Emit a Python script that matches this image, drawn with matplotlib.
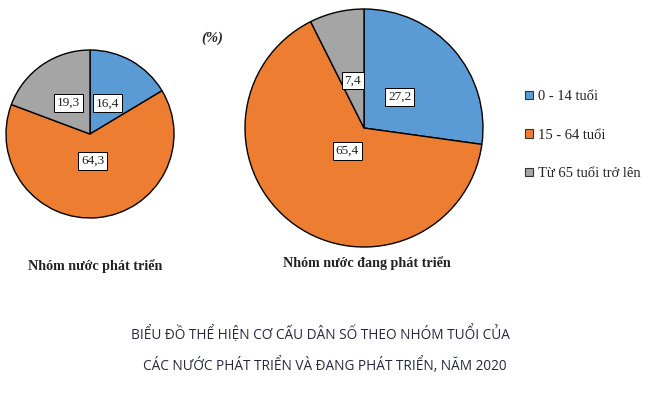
import matplotlib.pyplot as plt
from matplotlib.patches import Patch
import numpy as np

# Dữ liệu cơ cấu dân số theo nhóm tuổi (%), năm 2020
age_groups = ["0 - 14 tuổi", "15 - 64 tuổi", "Từ 65 tuổi trở lên"]
developed = [16.4, 64.3, 19.3]
developing = [27.2, 65.4, 7.4]
group_names = ["Nhóm nước phát triển", "Nhóm nước đang phát triển"]

colors = ["#5b9bd5", "#ed7d31", "#a5a5a5"]

W, H = 650, 408
fig = plt.figure(figsize=(W / 100, H / 100), dpi=100)
ax = fig.add_axes([0, 0, 1, 1])
ax.set_xlim(0, W)
ax.set_ylim(0, H)
ax.set_aspect("equal")
ax.axis("off")

serif = ["Liberation Serif", "DejaVu Serif"]


def draw_pie(values, center, radius, label_dist):
    # vẽ biểu đồ tròn, bắt đầu từ đỉnh, theo chiều kim đồng hồ
    wedges, _ = ax.pie(values, colors=colors, center=center, radius=radius,
                       startangle=90, counterclock=False,
                       wedgeprops=dict(edgecolor="black", linewidth=1.0))
    for w, v, d in zip(wedges, values, label_dist):
        mid = np.deg2rad((w.theta1 + w.theta2) / 2)
        x = center[0] + d * radius * np.cos(mid)
        y = center[1] + d * radius * np.sin(mid)
        ax.text(x, y, f"{v:.1f}".replace(".", ","), ha="center", va="center",
                fontsize=9.5, family=serif, color="#222222",
                bbox=dict(boxstyle="square,pad=0.22", fc="white", ec="black", lw=0.7))


draw_pie(developed, (90, H - 134), 84, [0.42, 0.32, 0.45])
draw_pie(developing, (364, H - 128), 119, [0.40, 0.24, 0.41])

ax.set_xlim(0, W)
ax.set_ylim(0, H)

ax.text(95, H - 266, group_names[0], ha="center", va="center",
        fontsize=10.2, fontweight="bold", family=serif, color="#222222")
ax.text(367, H - 263, group_names[1], ha="center", va="center",
        fontsize=10.2, fontweight="bold", family=serif, color="#222222")

ax.text(212, H - 38, "(%)", ha="center", va="center", fontsize=10.5,
        fontweight="bold", fontstyle="italic", family=serif, color="#222222")

# chú giải
handles = [Patch(facecolor=c, edgecolor="#333333", linewidth=0.8) for c in colors]
leg = ax.legend(handles, age_groups, loc="upper left", bbox_to_anchor=(512 / W, 1 - 77 / H),
                frameon=False, handlelength=0.55, handleheight=0.55, handletextpad=0.35,
                labelspacing=1.75, prop={"family": serif, "size": 10.5})
for t in leg.get_texts():
    t.set_color("#222222")

# tiêu đề
title_font = dict(ha="center", va="center", fontsize=9.8, family="Open Sans", color="#262640")
ax.text(320, H - 334, "BIỂU ĐỒ THỂ HIỆN CƠ CẤU DÂN SỐ THEO NHÓM TUỔI CỦA", **title_font)
ax.text(325, H - 366, "CÁC NƯỚC PHÁT TRIỂN VÀ ĐANG PHÁT TRIỂN, NĂM 2020", **title_font)

fig.savefig("out.png", dpi=100)
